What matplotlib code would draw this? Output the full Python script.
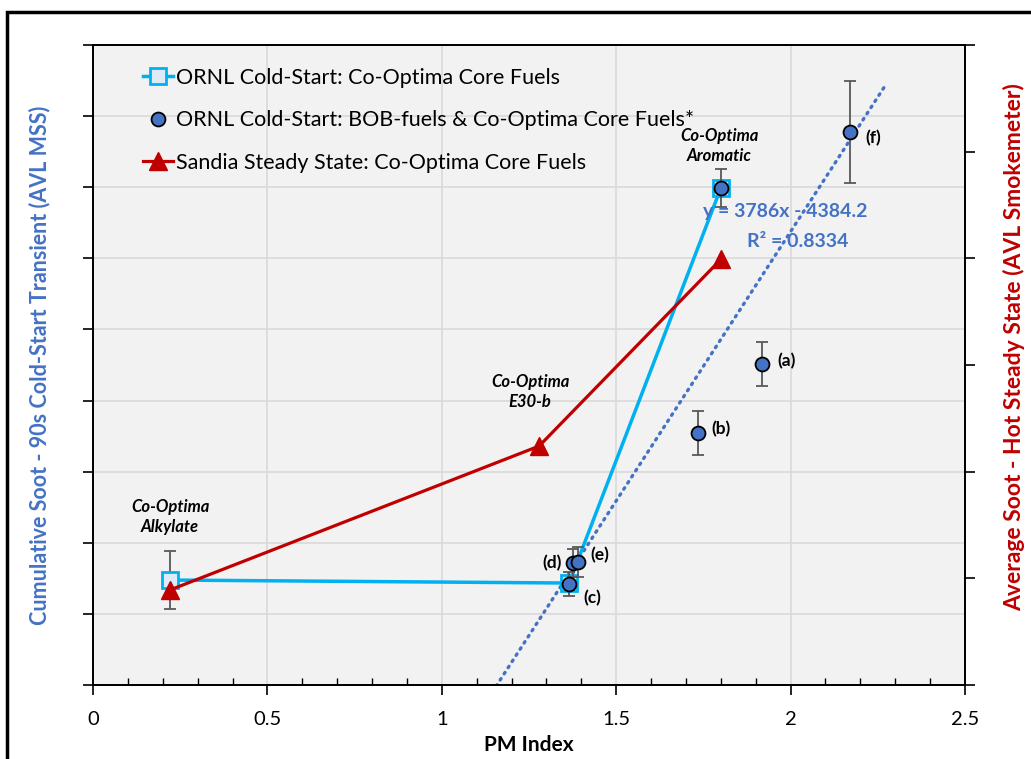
import matplotlib
matplotlib.use("Agg")
import matplotlib.pyplot as plt
from matplotlib.lines import Line2D
from matplotlib.patches import Rectangle
import numpy as np

plt.rcParams['font.family'] = ['Lato', 'DejaVu Sans']

# ---- data ----
core_x = [0.22, 1.365, 1.80]
core_y = [738, 717, 3494]
core_err = [205, 0, 0]

bob_x = [1.365, 1.375, 1.39, 1.735, 1.80, 1.918, 2.17]
bob_y = [710, 858, 865, 1772, 3494, 2257, 3888]
bob_err = [84, 100, 105, 155, 134, 155, 359]
bob_labels = ['(c)', '(d)', '(e)', '(b)', '', '(a)', '(f)']

sandia_x = [0.22, 1.279, 1.80]
sandia_y = [8.9, 22.4, 39.9]

trend_slope = 3786
trend_icpt = -4384.2
trend_x = [1.0, 2.275]

fuel_names = ['Co-Optima\nAlkylate', 'Co-Optima\nE30-b', 'Co-Optima\nAromatic']

# ---- colours ----
CYAN = '#00B0F0'
BLUE = '#4472C4'
RED = '#C00000'
ERR = '#595959'

fig = plt.figure(figsize=(10.31, 7.59), dpi=100)
ax = fig.add_axes([93/1031, 1-685/759, 872/1031, 640/759])
ax.set_facecolor('#F2F2F2')
ax.set_xlim(0, 2.5)
ax.set_ylim(0, 4500)
ax.set_xticks(np.arange(0, 2.51, 0.5))
ax.set_xticklabels(['0', '0.5', '1', '1.5', '2', '2.5'], fontsize=14.5)
ax.set_xticks(np.arange(0, 2.51, 0.1), minor=True)
ax.set_yticks(np.arange(0, 4501, 500))
ax.set_yticklabels([])
ax.grid(True, which='major', color='#D9D9D9', lw=1.2)
ax.set_axisbelow(True)
ax.tick_params(axis='x', which='major', direction='out', length=7, width=1.2, pad=12)
ax.tick_params(axis='x', which='minor', direction='in', length=5, width=1.0)
ax.tick_params(axis='y', which='major', direction='out', length=7, width=1.2)
for s in ax.spines.values():
    s.set_color('black')
    s.set_linewidth(1.3)
ax.set_xlabel('PM Index', fontsize=15, fontweight='bold', labelpad=5)
ax.set_ylabel('Cumulative Soot - 90s Cold-Start Transient (AVL MSS)', fontsize=15.5,
              fontweight='bold', color=BLUE, labelpad=20)

# trendline
tx = np.array(trend_x)
ax.plot(tx, trend_slope*tx + trend_icpt, ls=(0, (0.5, 1.7)), color=BLUE, lw=2.4,
        dash_capstyle='round', zorder=2)

# ORNL core fuels
ax.errorbar(core_x, core_y, yerr=core_err, fmt='none', ecolor=ERR, elinewidth=1.3,
            capsize=4, capthick=1.3, zorder=3)
ax.plot(core_x, core_y, color=CYAN, lw=2.5, marker='s', ms=11, mfc='#DDEBF7',
        mec=CYAN, mew=2, zorder=4)

# BOB fuels
ax.errorbar(bob_x, bob_y, yerr=bob_err, fmt='none', ecolor=ERR, elinewidth=1.3,
            capsize=4, capthick=1.3, zorder=5)
ax.plot(bob_x, bob_y, ls='none', marker='o', ms=10, mfc=BLUE, mec='black',
        mew=1.3, zorder=6)

# point labels
lab_pos = {'(a)': (1.961, 2278, 'left'), '(b)': (1.772, 1800, 'left'),
           '(c)': (1.405, 612, 'left'), '(d)': (1.345, 858, 'right'),
           '(e)': (1.425, 914, 'left'), '(f)': (2.213, 3846, 'left')}
for lab in bob_labels:
    if lab:
        px, py, ha = lab_pos[lab]
        ax.text(px, py, lab, fontsize=12.5, fontweight='bold', ha=ha, va='center', zorder=7)

# fuel names
name_pos = [(0.221, 1181), (1.253, 2060), (1.795, 3790)]
for (px, py), nm in zip(name_pos, fuel_names):
    ax.text(px, py, nm, fontsize=12, fontweight='bold', style='italic', ha='center',
            va='center', linespacing=1.3, zorder=7)

# equation
ax.text(1.984, 3326, 'y = 3786x - 4384.2', fontsize=14, fontweight='bold', color=BLUE,
        ha='center', va='center', zorder=7)
ax.text(2.021, 3115, 'R² = 0.8334', fontsize=14, fontweight='bold', color=BLUE,
        ha='center', va='center', zorder=7)

# secondary axis
ax2 = ax.twinx()
ax2.set_ylim(0, 60)
ax2.set_yticks(np.arange(0, 61, 10))
ax2.set_yticklabels([])
ax2.tick_params(axis='y', direction='out', length=7, width=1.2)
ax2.patch.set_visible(False)
for s in ax2.spines.values():
    s.set_color('black')
    s.set_linewidth(1.3)
ax2.plot(sandia_x, sandia_y, color=RED, lw=2.3, marker='^', ms=13, mfc=RED, mec=RED, zorder=5)
ax2.set_ylabel('Average Soot - Hot Steady State (AVL Smokemeter)', fontsize=16.5,
               fontweight='bold', color=RED, rotation=90)
ax2.yaxis.set_label_coords(1.044, 0.528)

# legend
handles = [
    Line2D([], [], color=CYAN, lw=2.5, marker='s', ms=11, mfc='#DDEBF7', mec=CYAN, mew=2),
    Line2D([], [], ls='none', marker='o', ms=10, mfc=BLUE, mec='black', mew=1.3),
    Line2D([], [], color=RED, lw=2.3, marker='^', ms=13, mfc=RED, mec=RED),
]
labels = ['ORNL Cold-Start: Co-Optima Core Fuels',
          'ORNL Cold-Start: BOB-fuels & Co-Optima Core Fuels*',
          'Sandia Steady State: Co-Optima Core Fuels']
leg = ax2.legend(handles, labels, loc='upper left', bbox_to_anchor=(0.047, 0.978),
                 frameon=False, fontsize=15.5, handlelength=1.4, handletextpad=0.15,
                 labelspacing=1.05, borderaxespad=0)

# figure border
fig.patches.append(Rectangle((7/1031, -0.05), 1.05, 1 - 12/759 + 0.05,
                             transform=fig.transFigure, fill=False, ec='black', lw=2.5))

fig.savefig('out.png', dpi=100)
